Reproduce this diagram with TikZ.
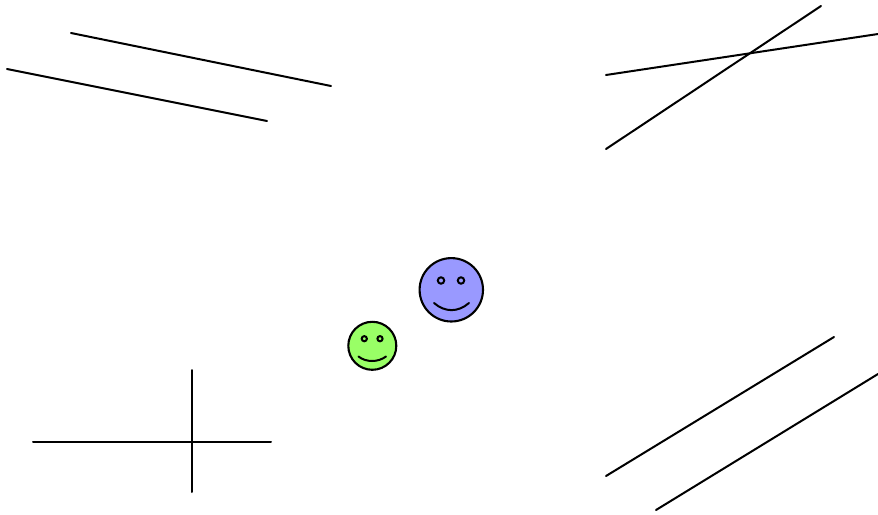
\documentclass[tikz,border=0pt]{standalone}
\tikzset{
  seg/.style={line width=2pt,line cap=round},
  face/.style={line width=2.1pt,draw=black},
  eye/.style={line width=2pt,draw=black}
}
\definecolor{faceblue}{RGB}{153,153,255}
\definecolor{facegreen}{RGB}{153,255,102}
\begin{document}
\begin{tikzpicture}[x=1pt,y=-1pt]
\useasboundingbox (0,0) rectangle (878,514);
% top left
\draw[seg] (71,33) -- (331,86);
\draw[seg] (7,69) -- (267,121);
% top right
\draw[seg] (606,75) -- (878,34);
\draw[seg] (606,149) -- (821,6);
% bottom left
\draw[seg] (33,442) -- (271,442);
\draw[seg] (192,370) -- (192,492);
% bottom right
\draw[seg] (606,476) -- (834,337);
\draw[seg] (656,510) -- (878,374);
% blue face
\draw[face,fill=faceblue] (451.3,289.8) circle (31.7);
\draw[eye] (441,280.5) circle (3.2);
\draw[eye] (461,280.5) circle (3.2);
\draw[seg] (434,303) .. controls (445,312.5) and (458,312.5) .. (469,303);
% green face
\draw[face,fill=facegreen] (372.3,345.8) circle (24);
\draw[eye] (364.3,338.7) circle (2.6);
\draw[eye] (380,338.7) circle (2.6);
\draw[seg] (358.5,356.5) .. controls (366,362.5) and (378,362.5) .. (386,356.5);
\end{tikzpicture}
\end{document}
